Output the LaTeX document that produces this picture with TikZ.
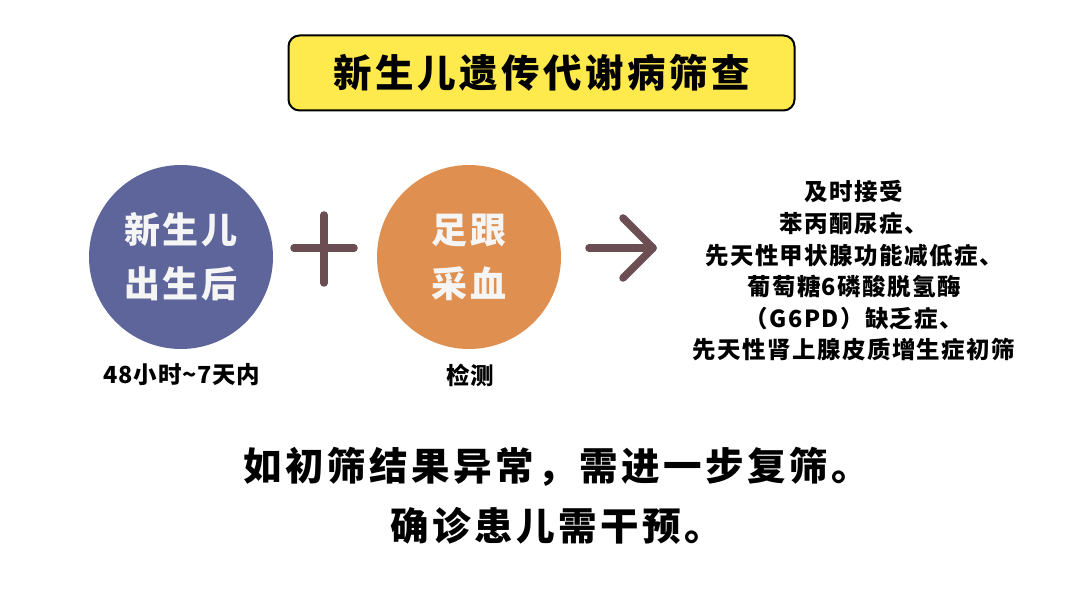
\documentclass[tikz,border=0pt]{standalone}
\usepackage{fontspec}
\setmainfont{Noto Sans CJK SC}[BoldFont=* Black]
\definecolor{titlefill}{HTML}{FFEA4D}
\definecolor{babyblue}{HTML}{5D659B}
\definecolor{heelorange}{HTML}{DF8F50}
\definecolor{signbrown}{HTML}{6A4E52}
\tikzset{
  titlebox/.style={draw=black, line width=2pt, fill=titlefill, rounded corners=11pt, minimum width=506pt, minimum height=75pt, inner sep=0},
  stepdot/.style={circle, minimum size=184pt, inner sep=0, align=center, text=white!96!black, font=\fontsize{36}{54}\bfseries\addfontfeatures{LetterSpace=6}},
  caption/.style={inner sep=0, font=\fontsize{23.5}{28}\bfseries\addfontfeatures{LetterSpace=3}},
  sign/.style={draw=signbrown, line width=7.5pt, line cap=round, line join=round},
}
\begin{document}
\begin{tikzpicture}[x=1pt, y=-1pt]
   \useasboundingbox (0,0) rectangle (1080,593);
   \node[titlebox, font=\fontsize{38.5}{46}\bfseries\addfontfeatures{LetterSpace=9}] (T) at (541.5,73) {\raisebox{-2pt}{新生儿遗传代谢病筛查}};
   \node[stepdot, fill=babyblue] (B) at (181,257) {新生儿\\出生后};
   \node[stepdot, fill=heelorange] (H) at (469,257) {足跟\\采血};
   \node[caption] (Bc) at (182,375) {48小时\textasciitilde7天内};
   \node[caption] (Hc) at (470,375) {检测};
   % plus sign
   \coordinate (pl) at (294,248);
   \coordinate (pr) at (354,248);
   \coordinate (pt) at (324,215);
   \coordinate (pb) at (324,283);
   \draw[sign] (pl) -- (pr);
   \draw[sign] (pt) -- (pb);
   % arrow
   \coordinate (as) at (589,248);
   \coordinate (ae) at (653,248);
   \coordinate (au) at (623,218);
   \coordinate (ad) at (623,278);
   \draw[sign] (as) -- (ae);
   \draw[sign] (au) -- (ae) -- (ad);
   \node[inner sep=0, align=center, font=\fontsize{23.5}{31.6}\bfseries\addfontfeatures{LetterSpace=6}] (R) at (854,271)
      {及时接受\\苯丙酮尿症、\\先天性甲状腺功能减低症、\\葡萄糖6磷酸脱氢酶\\（G6PD）缺乏症、\\先天性肾上腺皮质增生症初筛};
   \node[inner sep=0, align=center, font=\fontsize{38.5}{60}\bfseries\addfontfeatures{LetterSpace=9}] (N) at (557,496)
      {如初筛结果异常，需进一步复筛。\\确诊患儿需干预。};
\end{tikzpicture}
\end{document}
